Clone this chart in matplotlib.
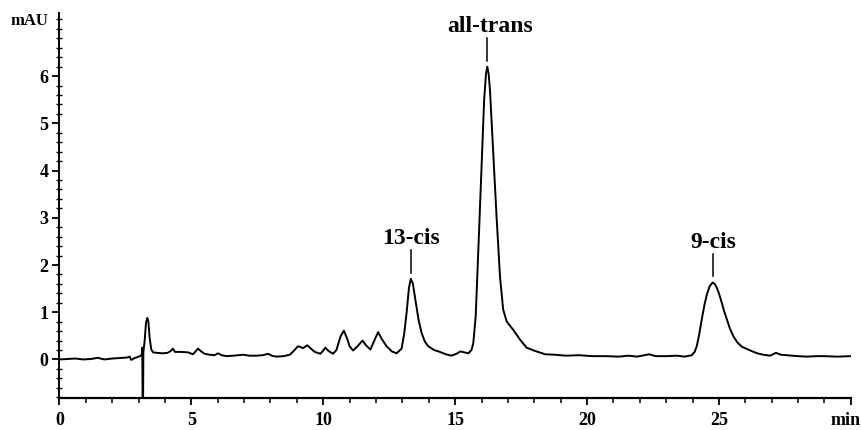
import matplotlib
matplotlib.use("Agg")
import matplotlib.pyplot as plt
from matplotlib.ticker import MultipleLocator, FixedLocator
from matplotlib.transforms import ScaledTranslation

# ---- data ----
time_min = [0.0, 0.3, 0.6, 0.9, 1.2, 1.45, 1.7, 2.0, 2.3, 2.55, 2.66, 2.72, 2.85, 3.05, 3.12,
            3.14, 3.15, 3.17, 3.18, 3.23, 3.28, 3.33, 3.37, 3.42, 3.48, 3.55, 3.7, 3.9, 4.1,
            4.22, 4.3, 4.38, 4.6, 4.87, 5.06, 5.16, 5.25, 5.35, 5.5, 5.7, 5.88, 6.01, 6.15,
            6.33, 6.6, 6.96, 7.2, 7.46, 7.7, 7.91, 8.05, 8.22, 8.5, 8.73, 8.88, 9.04, 9.15,
            9.23, 9.4, 9.55, 9.68, 9.89, 10.0, 10.08, 10.2, 10.37, 10.5, 10.65, 10.78, 10.9,
            11.0, 11.13, 11.3, 11.49, 11.62, 11.79, 11.92, 12.08, 12.2, 12.4, 12.6, 12.78,
            12.97, 13.07, 13.16, 13.25, 13.32, 13.4, 13.51, 13.62, 13.73, 13.85, 13.98, 14.2,
            14.42, 14.65, 14.86, 15.05, 15.2, 15.35, 15.5, 15.62, 15.69, 15.78, 15.88, 16.0,
            16.1, 16.17, 16.22, 16.27, 16.32, 16.44, 16.57, 16.7, 16.82, 16.95, 17.07, 17.2,
            17.46, 17.71, 18.03, 18.41, 18.79, 19.2, 19.7, 20.2, 20.7, 21.2, 21.57, 21.9,
            22.36, 22.6, 23.0, 23.4, 23.7, 23.97, 24.08, 24.16, 24.25, 24.35, 24.45, 24.54,
            24.65, 24.76, 24.84, 24.92, 25.0, 25.11, 25.2, 25.3, 25.42, 25.55, 25.7, 25.87,
            26.19, 26.45, 26.69, 26.94, 27.16, 27.35, 27.58, 28.0, 28.34, 28.7, 28.97, 29.5, 30.0]
absorbance_mau = [0.0, 0.01, 0.02, 0.0, 0.01, 0.035, 0.0, 0.02, 0.03, 0.04, 0.06, -0.01, 0.03, 0.07, 0.10,
                  0.25, -0.82, -0.82, 0.15, 0.40, 0.78, 0.88, 0.80, 0.45, 0.21, 0.15, 0.14, 0.13, 0.14,
                  0.18, 0.23, 0.16, 0.16, 0.15, 0.11, 0.17, 0.23, 0.18, 0.12, 0.10, 0.09, 0.13, 0.09,
                  0.07, 0.08, 0.10, 0.08, 0.08, 0.09, 0.12, 0.08, 0.06, 0.07, 0.10, 0.18, 0.28, 0.26,
                  0.24, 0.30, 0.22, 0.16, 0.12, 0.19, 0.25, 0.18, 0.12, 0.20, 0.48, 0.61, 0.45,
                  0.28, 0.19, 0.28, 0.40, 0.30, 0.21, 0.38, 0.58, 0.45, 0.28, 0.17, 0.13,
                  0.23, 0.55, 0.99, 1.52, 1.71, 1.60, 1.20, 0.82, 0.56, 0.38, 0.28, 0.20,
                  0.16, 0.11, 0.08, 0.12, 0.17, 0.15, 0.13, 0.20, 0.35, 0.92, 2.33, 4.09,
                  5.50, 6.05, 6.20, 6.05, 5.71, 4.44, 3.03, 1.76, 1.06, 0.81, 0.72, 0.63,
                  0.42, 0.25, 0.18, 0.11, 0.10, 0.08, 0.09, 0.07, 0.07, 0.06, 0.08, 0.06,
                  0.11, 0.07, 0.07, 0.08, 0.06, 0.09, 0.16, 0.28, 0.52, 0.85, 1.15, 1.37,
                  1.55, 1.63, 1.60, 1.52, 1.40, 1.20, 1.02, 0.85, 0.65, 0.49, 0.36, 0.27,
                  0.19, 0.13, 0.10, 0.08, 0.14, 0.10, 0.09, 0.07, 0.06, 0.07, 0.07, 0.06, 0.07]

peak_labels = ["13-cis", "all-trans", "9-cis"]
peak_times = [13.32, 16.22, 24.77]
peak_heights = [1.71, 6.20, 1.63]

x_tick_values = [0, 5, 10, 15, 20, 25, 30]
x_tick_labels = ["0", "5", "10", "15", "20", "25", "min"]
y_tick_values = [0, 1, 2, 3, 4, 5, 6]

# ---- figure ----
font = {"family": "Liberation Serif", "weight": "bold"}
fig = plt.figure(figsize=(8.62, 4.30), dpi=100)
ax = fig.add_axes([0.069, 0.074, 0.918, 0.895])

ax.plot(time_min, absorbance_mau, color="black", lw=1.4, solid_joinstyle="round")

ax.set_xlim(0, 30)
ax.set_ylim(-0.82, 7.33)

for sp in ("top", "right"):
    ax.spines[sp].set_visible(False)
ax.spines["left"].set_linewidth(1.4)
ax.spines["bottom"].set_linewidth(1.6)

ax.xaxis.set_major_locator(FixedLocator(x_tick_values))
ax.set_xticklabels(x_tick_labels, fontdict=font, fontsize=13)
ax.xaxis.set_minor_locator(MultipleLocator(1))
ax.tick_params(axis="x", which="major", direction="out", length=5, width=1.3, pad=5)
ax.tick_params(axis="x", which="minor", direction="out", length=3.5, width=1.1)
min_label = ax.get_xticklabels()[-1]
min_label.set_transform(min_label.get_transform() + ScaledTranslation(-4 / 72, 0, fig.dpi_scale_trans))

ax.yaxis.set_major_locator(FixedLocator(y_tick_values))
ax.set_yticklabels([str(v) for v in y_tick_values], fontdict=font, fontsize=13)
ax.yaxis.set_minor_locator(MultipleLocator(0.2))
ax.tick_params(axis="y", which="major", direction="out", length=5, width=1.3, pad=3)
ax.tick_params(axis="y", which="minor", direction="inout", length=4, width=1.0)

fig.text(0.012, 0.952, "mAU", fontdict=font, fontsize=12, ha="left", va="center")

gap, seg, txt = 0.13, 0.48, 0.12
for name, t, h in zip(peak_labels, peak_times, peak_heights):
    ax.plot([t, t], [h + gap, h + gap + seg], color="black", lw=1.1)
    ax.text(t + (0.1 if name == "all-trans" else 0.0), h + gap + seg + txt, name,
            fontdict=font, fontsize=17, ha="center", va="baseline")

fig.savefig("out.png", dpi=100)
